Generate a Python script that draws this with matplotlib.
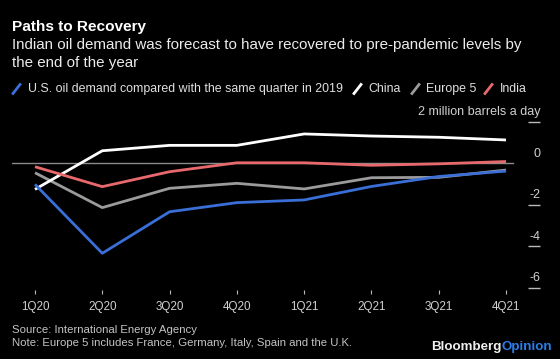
import matplotlib
matplotlib.use("Agg")
import matplotlib.pyplot as plt
from matplotlib.lines import Line2D
from matplotlib.transforms import blended_transform_factory

plt.rcParams['font.family'] = ['Liberation Sans', 'DejaVu Sans']

quarters = ["1Q20", "2Q20", "3Q20", "4Q20", "1Q21", "2Q21", "3Q21", "4Q21"]
us = [-1.02, -4.34, -2.34, -1.90, -1.77, -1.12, -0.64, -0.38]
china = [-1.26, 0.60, 0.86, 0.86, 1.41, 1.31, 1.25, 1.12]
europe5 = [-0.46, -2.14, -1.21, -0.97, -1.24, -0.70, -0.68, -0.33]
india = [-0.17, -1.13, -0.41, 0.02, 0.02, -0.10, -0.03, 0.08]

ytick_vals = [2, 0, -2, -4, -6]
ytick_labels = ["2 million barrels a day", "0", "-2", "-4", "-6"]

series_names = ["U.S. oil demand compared with the same quarter in 2019", "China", "Europe 5", "India"]
colors = ["#3a6fd8", "#ffffff", "#9b9b9b", "#e8696d"]

BG = "#000000"
W, H = 560, 359
fig = plt.figure(figsize=(W / 100, H / 100), dpi=100, facecolor=BG)

def fx(px):
    return px / W

def fy(py):
    return 1 - py / H

ax = fig.add_axes([fx(12), fy(289.8), fx(528), (289.8 - 121.7) / H])
ax.set_facecolor(BG)
x = list(range(len(quarters)))
ax.set_xlim(-23 / 67.29, (540 - 35) / 67.29)
ax.set_ylim(-6.1, 2.0)

ax.axhline(0, xmin=0, xmax=(513 - 12) / 528, color="#8a8a8a", lw=1.0, zorder=1)

for vals, c, z in [(china, colors[1], 3), (europe5, colors[2], 2), (us, colors[0], 4), (india, colors[3], 5)]:
    ax.plot(x, vals, color=c, lw=2.0, solid_capstyle='butt', zorder=z, clip_on=False)

for s in ax.spines.values():
    s.set_visible(False)

ax.set_xticks(x)
ax.set_xticklabels(quarters)
ax.tick_params(axis='x', colors="#bbbbbb", length=3, width=0.8, direction='out', pad=5,
               labelsize=8.4, labelcolor="#d0d0d0")

tick_marks = [v for v in ytick_vals if v != 0]
ax.yaxis.tick_right()
ax.set_yticks(tick_marks)
ax.set_yticklabels([])
ax.tick_params(axis='y', colors="#bbbbbb", length=8.5, width=1.0, direction='in', right=True, left=False)

tr = blended_transform_factory(ax.transAxes, ax.transData)
for v, lab in zip(ytick_vals, ytick_labels):
    ax.text(1.0, v + 0.16, lab, transform=tr, ha='right', va='bottom',
            color="#d0d0d0", fontsize=9, clip_on=False)

# Title and subtitle
fig.text(fx(12), fy(26.7), "Paths to Recovery", color="white", fontsize=11.1, fontweight='bold',
         ha='left', va='center')
fig.text(fx(12), fy(45), "Indian oil demand was forecast to have recovered to pre-pandemic levels by",
         color="#ececec", fontsize=10.9, ha='left', va='center')
fig.text(fx(12), fy(62.7), "the end of the year", color="#ececec", fontsize=10.9, ha='left', va='center')

# Legend
leg_items = [(12, 28.5), (353, 368), (411, 426), (484, 500)]
for (sx, tx), name, c in zip(leg_items, series_names, colors):
    fig.add_artist(Line2D([fx(sx + 1), fx(sx + 8)], [fy(93.5), fy(84.5)], color=c, lw=2.0,
                          transform=fig.transFigure))
    fig.text(fx(tx), fy(89), name, color="#e0e0e0", fontsize=8.9, ha='left', va='center')

# Footer
fig.text(fx(12), fy(330), "Source: International Energy Agency", color="#c4c4c4", fontsize=8.2,
         ha='left', va='center')
fig.text(fx(12), fy(343.5), "Note: Europe 5 includes France, Germany, Italy, Spain and the U.K.",
         color="#c4c4c4", fontsize=8.2, ha='left', va='center')
fig.text(fx(502), fy(346.7), "Bloomberg", color="#f0f0f0", fontsize=9.6, fontweight='bold',
         ha='right', va='center')
fig.text(fx(502), fy(346.7), "Opinion", color="#2a7ee8", fontsize=9.6, fontweight='bold',
         ha='left', va='center')

fig.savefig("out.png", dpi=100, facecolor=BG)
